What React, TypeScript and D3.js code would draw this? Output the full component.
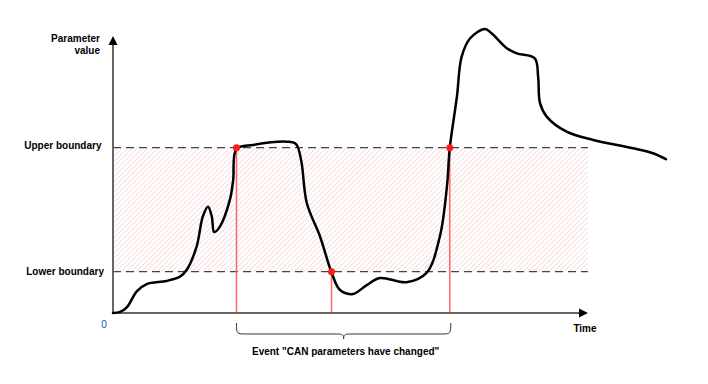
import React from 'react';
import * as d3 from 'd3';

// curve of the parameter over time (time 0..100 = axis length, value units)
const curveTime = [0, 1.5, 3.0, 5.0, 7.1, 11.3, 14.1, 15.5, 17.6, 18.9, 20.0, 20.8, 21.3, 22.5, 24.6, 25.3, 26.0, 29.5, 36.6, 38.5, 39.6, 40.8, 43.6, 46.0, 47.8, 50.5, 53.4, 56.2, 61.8, 66.0, 68.8, 70.3, 70.9, 72.4, 73.4, 75.2, 78.3, 79.7, 82.9, 85.0, 88.8, 89.5, 89.9, 91.3, 95.5, 101.1, 109.5, 113.7, 116.4];
const curveValue = [0, 0.05, 0.3, 1.05, 1.4, 1.55, 1.76, 2.08, 3.21, 4.66, 5.14, 4.66, 3.92, 4.18, 5.47, 6.43, 7.93, 8.13, 8.29, 8.18, 7.4, 5.32, 3.69, 1.97, 1.11, 0.92, 1.35, 1.69, 1.49, 1.94, 3.69, 6.11, 7.98, 10.46, 12.4, 13.29, 13.74, 13.53, 12.81, 12.56, 12.32, 11.43, 10.15, 9.5, 8.77, 8.37, 7.97, 7.73, 7.44];

const eventTime = [26.0, 46.0, 70.9];
const eventValue = [8, 2, 8];

const lowerBoundary = 2;
const upperBoundary = 8;
const boundaryLabels = ['Lower boundary', 'Upper boundary'];

const App: React.FC = () => {
  const width = 708;
  const height = 384;

  const x = d3.scaleLinear().domain([0, 100]).range([113, 588]);
  const y = d3.scaleLinear().domain([0, 13.4]).range([313, 36]);

  const points: [number, number][] = curveTime.map((t, i) => [t, curveValue[i]]);
  const line = d3.line<[number, number]>()
    .x(d => x(d[0]))
    .y(d => y(d[1]))
    .curve(d3.curveCatmullRom.alpha(0.5));

  const x0 = x(0);
  const y0 = y(0);
  const xEnd = x(100);
  const yTop = y(13.4);

  // brace under the events
  const bl = x(eventTime[0]);
  const br = x(eventTime[2]) + 1;
  const bm = (bl + br) / 2;
  const bt = 323;
  const bb = 334;
  const brace = `M${bl},${bt} C${bl},${bb} ${bl},${bb} ${bl + 10},${bb} L${bm - 6},${bb} C${bm - 1},${bb} ${bm},${bb + 1} ${bm},${bb + 5} C${bm},${bb + 1} ${bm + 1},${bb} ${bm + 6},${bb} L${br - 10},${bb} C${br},${bb} ${br},${bb} ${br},${bt}`;

  const font = 'Liberation Sans, Arial, Helvetica, sans-serif';

  return (
    <svg width={width} height={height} style={{ position: 'absolute', left: 0, top: 0 }} fontFamily={font}>
      <defs>
        <pattern id="hatch" patternUnits="userSpaceOnUse" width={3.6} height={3.6} patternTransform="rotate(45)">
          <line x1={0} y1={0} x2={0} y2={3.6} stroke="#f4bcbc" strokeWidth={1} />
        </pattern>
      </defs>

      {/* hatched allowed band */}
      <rect x={x0} y={y(upperBoundary)} width={xEnd - x0} height={y(lowerBoundary) - y(upperBoundary)} fill="url(#hatch)" />

      {/* boundary lines */}
      {[lowerBoundary, upperBoundary].map(b => (
        <line key={b} x1={x0} x2={xEnd} y1={y(b)} y2={y(b)} stroke="#444" strokeWidth={1.2} strokeDasharray="8,5" />
      ))}

      {/* event verticals */}
      {eventTime.map((t, i) => (
        <line key={i} x1={x(t)} x2={x(t)} y1={y(eventValue[i])} y2={y0} stroke="#ff6666" strokeWidth={1.5} />
      ))}

      {/* axes */}
      <line x1={x0} x2={x0} y1={y0} y2={yTop + 7} stroke="#666" strokeWidth={2} />
      <path d={`M${x0},${yTop} L${x0 + 4.5},${yTop + 9} L${x0 - 4.5},${yTop + 9} Z`} fill="#000" />
      <line x1={x0} x2={xEnd - 7} y1={y0} y2={y0} stroke="#666" strokeWidth={2} />
      <path d={`M${xEnd},${y0} L${xEnd - 9},${y0 - 4.5} L${xEnd - 9},${y0 + 4.5} Z`} fill="#000" />

      {/* curve */}
      <path d={line(points) ?? ''} fill="none" stroke="#000" strokeWidth={2.5} strokeLinecap="round" />

      {/* event points */}
      {eventTime.map((t, i) => (
        <circle key={i} cx={x(t)} cy={y(eventValue[i])} r={3.5} fill="#ff1a1a" />
      ))}

      <path d={brace} fill="none" stroke="#333" strokeWidth={1} />

      {/* labels */}
      <text x={100} y={42} textAnchor="end" fontSize={10} fontWeight="bold">Parameter</text>
      <text x={100} y={54} textAnchor="end" fontSize={10} fontWeight="bold">value</text>
      <text x={104} y={y(lowerBoundary) + 3} textAnchor="end" fontSize={10} fontWeight="bold">{boundaryLabels[0]}</text>
      <text x={101.5} y={y(upperBoundary) + 1} textAnchor="end" fontSize={10} fontWeight="bold">{boundaryLabels[1]}</text>
      <text x={104} y={328} textAnchor="middle" fontSize={10} fill="#0060c0">0</text>
      <text x={585} y={332} textAnchor="middle" fontSize={10} fontWeight="bold">Time</text>
      <text x={bm + 2} y={355} textAnchor="middle" fontSize={10} fontWeight="bold">Event "CAN parameters have changed"</text>
    </svg>
  );
};

export default App;
